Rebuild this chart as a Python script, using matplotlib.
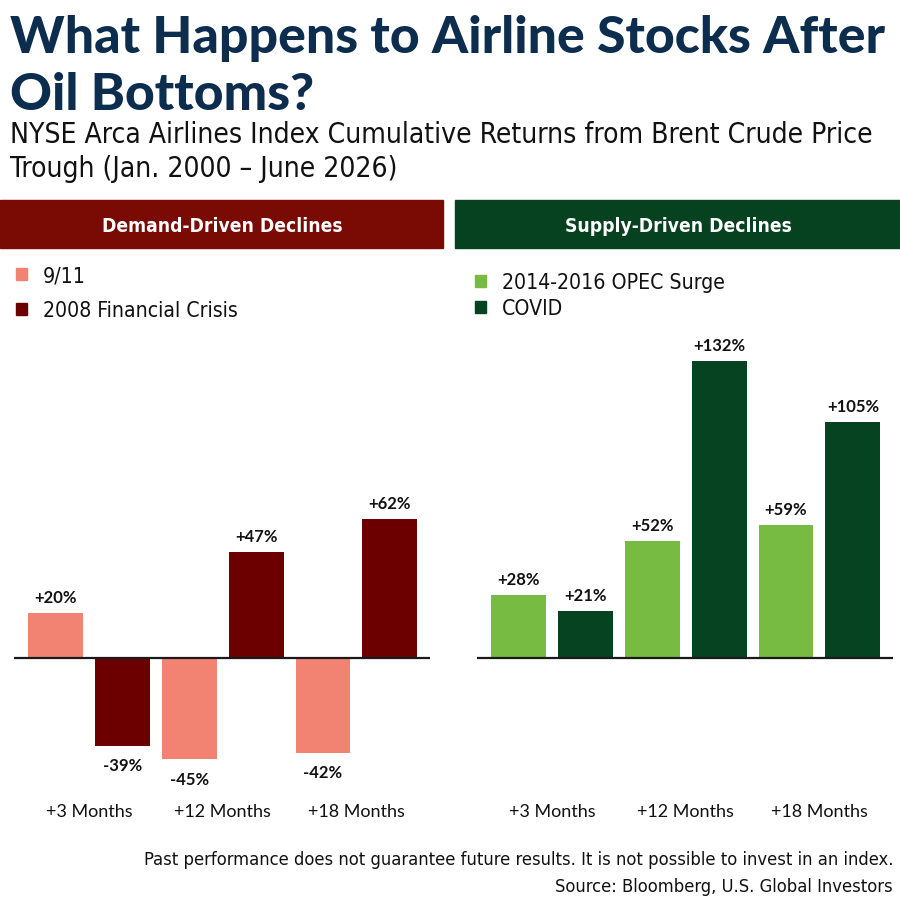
import matplotlib
matplotlib.use("Agg")
import matplotlib.pyplot as plt
from matplotlib.patches import Rectangle
from matplotlib import font_manager
import numpy as np

# ---- data ----
categories = ["+3 Months", "+12 Months", "+18 Months"]
demand_series = ["9/11", "2008 Financial Crisis"]
demand_911 = [20, -45, -42]
demand_2008 = [-39, 47, 62]
supply_series = ["2014-2016 OPEC Surge", "COVID"]
supply_opec = [28, 52, 59]
supply_covid = [21, 132, 105]

title_lines = ["What Happens to Airline Stocks After", "Oil Bottoms?"]
subtitle_lines = ["NYSE Arca Airlines Index Cumulative Returns from Brent Crude Price",
                  "Trough (Jan. 2000 \u2013 June 2026)"]
left_header = "Demand-Driven Declines"
right_header = "Supply-Driven Declines"
footer1 = "Past performance does not guarantee future results. It is not possible to invest in an index."
footer2 = "Source: Bloomberg, U.S. Global Investors"

# ---- style ----
W = H = 900
C_SALMON = "#f28272"
C_DRED = "#6c0000"
C_LGREEN = "#77bb43"
C_DGREEN = "#054321"
C_BANNER_RED = "#7a0a04"
C_BANNER_GREEN = "#06421f"
C_NAVY = "#0c2d4e"
FONT = "Lato"

avail = {(f.name, f.stretch) for f in font_manager.fontManager.ttflist}
names = {n for n, s in avail}
if "Liberation Sans Narrow" in names:
    NARROW = dict(family=["Liberation Sans Narrow", "DejaVu Sans"])
elif ("DejaVu Sans", "condensed") in avail or ("DejaVu Sans", "semi-condensed") in avail:
    NARROW = dict(family=["DejaVu Sans"], fontstretch="condensed")
else:
    NARROW = dict(family=["Lato", "DejaVu Sans"])

fig = plt.figure(figsize=(9, 9), dpi=100)
fig.patch.set_facecolor("white")
renderer = fig.canvas.get_renderer()

def fx(px):
    return px / W

def fy(py):
    return 1 - py / H

def fit(t, target_w):
    w = t.get_window_extent(renderer).width
    t.set_fontsize(t.get_fontsize() * target_w / w)
    return t.get_fontsize()

PX_PER_UNIT = 2.25
ZERO_Y = 658
AX_TOP, AX_BOT = 340, 800
ymax = (ZERO_Y - AX_TOP) / PX_PER_UNIT
ymin = (ZERO_Y - AX_BOT) / PX_PER_UNIT

def make_panel(x0, x1, s1, s2, c1, c2):
    ax = fig.add_axes([fx(x0), fy(AX_BOT), fx(x1 - x0), (AX_BOT - AX_TOP) / H])
    ax.set_ylim(ymin, ymax)
    ax.set_xlim(-0.56, 2.55)
    x = np.arange(len(categories))
    off, bw = 0.25, 0.41
    b1 = ax.bar(x - off, s1, bw, color=c1, zorder=2)
    b2 = ax.bar(x + off, s2, bw, color=c2, zorder=2)
    ax.axhline(0, color="#1a1a1a", lw=1.6, zorder=3)
    for bars, vals in ((b1, s1), (b2, s2)):
        for b, v in zip(bars, vals):
            lab = f"+{v}%" if v > 0 else f"{v}%"
            if v >= 0:
                ax.annotate(lab, (b.get_x() + b.get_width() / 2, v), xytext=(0, 5),
                            textcoords="offset points", ha="center", va="bottom",
                            fontsize=12, fontweight="bold", family=FONT, color="#111111")
            else:
                ax.annotate(lab, (b.get_x() + b.get_width() / 2, v), xytext=(0, -9),
                            textcoords="offset points", ha="center", va="top",
                            fontsize=12, fontweight="bold", family=FONT, color="#111111")
    ax.set_xticks(x)
    ax.set_xticklabels(categories, family=FONT, fontsize=13, color="#111111")
    ax.tick_params(axis="x", length=0, pad=3)
    ax.set_yticks([])
    for sp in ax.spines.values():
        sp.set_visible(False)
    ax.patch.set_alpha(0)
    return ax

make_panel(14, 430, demand_911, demand_2008, C_SALMON, C_DRED)
make_panel(477, 893, supply_opec, supply_covid, C_LGREEN, C_DGREEN)

# title
t1 = fig.text(fx(10), fy(53), title_lines[0], family=FONT, fontweight="black",
              fontsize=36, color=C_NAVY, va="baseline", ha="left")
fs = fit(t1, 875)
fig.text(fx(10), fy(110), title_lines[1], family=FONT, fontweight="black",
         fontsize=fs, color=C_NAVY, va="baseline", ha="left")

s1 = fig.text(fx(10), fy(143), subtitle_lines[0], fontsize=20, color="#111111",
              va="baseline", ha="left", **NARROW)
fs = fit(s1, 863)
fig.text(fx(10), fy(177), subtitle_lines[1], fontsize=fs, color="#111111",
         va="baseline", ha="left", **NARROW)

# banners
fig.add_artist(Rectangle((fx(0), fy(248)), fx(443), 48 / H, transform=fig.transFigure,
                         color=C_BANNER_RED, zorder=1))
fig.add_artist(Rectangle((fx(455), fy(248)), fx(445), 48 / H, transform=fig.transFigure,
                         color=C_BANNER_GREEN, zorder=1))
h1 = fig.text(fx(222), fy(232), left_header, fontsize=15, fontweight="bold",
              color="white", ha="center", va="baseline", **NARROW)
fs = fit(h1, 240)
fig.text(fx(678), fy(232), right_header, fontsize=fs, fontweight="bold",
         color="white", ha="center", va="baseline", **NARROW)

# legends
leg_items = [(16, 274, C_SALMON, demand_series[0]),
             (16, 309, C_DRED, demand_series[1]),
             (475, 281, C_LGREEN, supply_series[0]),
             (475, 307, C_DGREEN, supply_series[1])]
probe = fig.text(0, 0, demand_series[1], fontsize=15, **NARROW)
leg_fs = fit(probe, 196)
probe.remove()
for xs, yc, color, label in leg_items:
    fig.add_artist(Rectangle((fx(xs), fy(yc + 6)), 11 / W, 12 / H, transform=fig.transFigure,
                             color=color))
    fig.text(fx(xs + 27), fy(yc + 8), label, fontsize=leg_fs, color="#111111",
             ha="left", va="baseline", **NARROW)

# footer
f1 = fig.text(fx(893), fy(865), footer1, fontsize=13, color="#111111", ha="right",
              va="baseline", **NARROW)
fs = fit(f1, 749)
fig.text(fx(893), fy(892), footer2, fontsize=fs, color="#111111", ha="right",
         va="baseline", **NARROW)

fig.savefig("out.png", dpi=100, facecolor="white")
